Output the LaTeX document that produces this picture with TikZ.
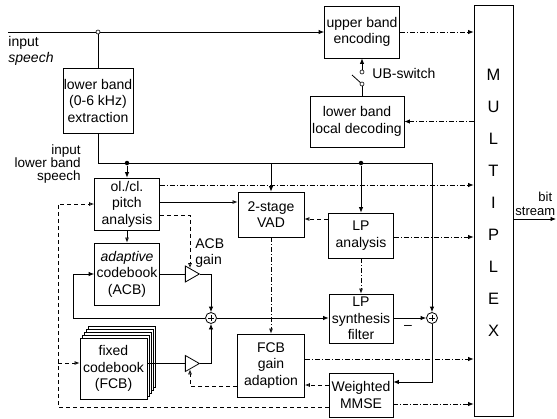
\documentclass[tikz,border=0pt]{standalone}
\usepackage{fontspec}
\setmainfont{Liberation Sans}
\usetikzlibrary{arrows.meta,shapes.geometric}
\begin{document}
\begin{tikzpicture}[x=1pt,y=-1pt,
  font=\fontsize{14}{16.5}\selectfont,
  line width=0.8pt,
  blk/.style={draw, align=center, inner sep=0pt, fill=white},
  fa/.style={-{Latex[length=5.5pt,width=4.5pt]}},
  oa/.style={-{Latex[open,length=5pt,width=4pt]}},
  dsh/.style={dash pattern=on 4pt off 3pt},
  dd/.style={dash pattern=on 5pt off 2pt on 1pt off 2pt},
  sumnode/.style={draw, circle, minimum size=11pt, inner sep=0pt, fill=white,
    path picture={\draw[line width=0.6pt]
      ([xshift=-3pt]path picture bounding box.center) -- ([xshift=3pt]path picture bounding box.center)
      ([yshift=-3pt]path picture bounding box.center) -- ([yshift=3pt]path picture bounding box.center);}},
  amp/.style={draw, isosceles triangle, isosceles triangle stretches, minimum width=16pt, minimum height=14pt, inner sep=0pt, fill=white},
  dotnode/.style={circle, fill=black, minimum size=4.5pt, inner sep=0pt},
  swc/.style={circle, draw, fill=white, minimum size=4pt, inner sep=0pt, line width=0.6pt},
]
\useasboundingbox (0,0) rectangle (557,418);

% blocks
\node[blk, minimum width=70pt, minimum height=65pt] (ext) at (98,100.5) {lower band\\(0-6 kHz)\\extraction};
\node[blk, minimum width=75pt, minimum height=52pt] (ube) at (362,32) {upper band\\encoding};
\node[blk, minimum width=94pt, minimum height=51pt] (lbd) at (357,121.5) {lower band\\local decoding};
\node[draw, minimum width=39pt, minimum height=411pt, inner sep=0pt] (mux) at (493.5,210.5) {};
\node[align=center, font=\fontsize{16.5}{32}\selectfont] (muxt) at (493.5,203) {M\\U\\L\\T\\I\\P\\L\\E\\X};
\node[blk, minimum width=65pt, minimum height=52pt] (pitch) at (127,204) {ol./cl.\\pitch\\analysis};
\node[blk, minimum width=65pt, minimum height=62pt] (acb) at (127,274) {\textit{adaptive}\\codebook\\(ACB)};
\foreach \i in {4,3,2,1}{
  \draw[fill=white] (80+2*\i,338-3*\i) rectangle ++(67,61);
}
\node[blk, minimum width=67pt, minimum height=61pt] (fcb) at (113.5,368.5) {fixed\\codebook\\(FCB)};
\node[blk, minimum width=66pt, minimum height=45pt] (vad) at (271,214.5) {2-stage\\VAD};
\node[blk, minimum width=65pt, minimum height=45pt] (lpa) at (361,235.5) {LP\\analysis};
\node[blk, minimum width=64pt, minimum height=49pt] (lps) at (361,318.5) {LP\\synthesis\\filter};
\node[blk, minimum width=67pt, minimum height=63pt] (fga) at (271,365.5) {FCB\\gain\\adaption};
\node[blk, minimum width=64pt, minimum height=44pt] (wm) at (361,395) {Weighted\\MMSE};

\node[sumnode] (s1) at (211,318) {};
\node[sumnode] (s2) at (432,318) {};
\node[amp] (a1) at (190,274) {};
\node[amp] (a2) at (190,363.5) {};

% labels
\node[anchor=north west, align=left, inner sep=0pt, font=\fontsize{14}{15.5}\selectfont] (lin) at (8,36) {input\\\textit{speech}};
\node[anchor=north east, align=right, inner sep=0pt, font=\fontsize{13.5}{13}\selectfont] (llb) at (81,144) {input\\lower band\\speech};
\node[anchor=west, align=left, inner sep=0pt, font=\fontsize{14}{15.5}\selectfont] (lacb) at (195,253) {ACB\\gain};
\node[anchor=west, inner sep=0pt] (lsw) at (372,73) {UB-switch};
\node[inner sep=0pt] (lmin) at (408,327) {\textendash};
\node[anchor=west, inner sep=0pt, font=\fontsize{13}{15}\selectfont] (lbit) at (538,197) {bit};
\node[anchor=west, inner sep=0pt, font=\fontsize{13}{15}\selectfont] (lstr) at (515,211) {stream};

% input line
\coordinate (inp) at (8,32);
\draw[fa] (inp) -- (ube.west);
\node[swc] (j1) at (98,32) {};
\draw (j1) -- (ext.north);

% lower band bus
\coordinate (b0) at (98,163);
\coordinate (b3) at (432,163);
\coordinate (bv) at (271,163);
\draw (ext.south) -- (b0) -- (b3);
\node[dotnode] (d1) at (127,163) {};
\node[dotnode] (d2) at (361,163) {};
\draw[fa] (d1) -- (pitch.north);
\draw[fa] (bv) -- (vad.north);
\draw[fa] (d2) -- (lpa.north);
\draw[fa] (b3) -- (s2.north);

% UB switch
\node[swc] (c1) at (362,72) {};
\node[swc] (c2) at (362,84) {};
\coordinate (blade) at (352,75);
\draw[fa] (c1) -- (ube.south);
\draw (c2) -- (blade);
\draw (c2) -- (c2 |- lbd.north);

% multiplex connections
\draw[dd,fa] (ube.east) -- (mux.west |- ube);
\draw[dd,fa] (mux.west |- lbd) -- (lbd.east);
\draw[dd,fa] (pitch.east |- 0,185) -- (mux.west |- 0,185);
\draw[dd,fa] (lpa.east |- 0,237) -- (mux.west |- 0,237);
\draw[dd,fa] (fga.east |- 0,359) -- (mux.west |- 0,359);
\draw[dd,fa] (wm.east |- 0,404) -- (mux.west |- 0,404);
\coordinate (out) at (556,219);
\draw[fa] (mux.east |- out) -- (out);

% pitch
\draw[oa] (pitch.east |- 0,202) -- (vad.west |- 0,202);
\draw[oa] (pitch.south) -- (acb.north);
\draw[dsh,oa] (pitch.east |- 0,215) -| (a1);

% codebooks and gains
\draw (acb.east) -- (a1);
\draw (fcb.east |- a2) -- (a2);
\draw[fa] (a1.apex) -| (s1);
\draw[fa] (a2.apex) -| (s1);
\coordinate (fb) at (73,318);
\draw[fa] (s1.west) -- (fb) |- (acb.west);
\draw[fa] (s1.east) -- (lps.west |- s1);
\draw[fa] (lps.east |- s2) -- (s2.west);
\draw[fa] (s2.south) |- (wm.east |- 0,382);

% dashed control
\coordinate (cl) at (58,204);
\draw[dsh,oa] (wm.west |- 0,407) -| (cl) -- (pitch.west);
\draw[dsh,oa] (cl |- 0,363) -- (fcb.west |- 0,363);
\draw[dsh,oa] (wm.west |- 0,385) -- (fga.east |- 0,385);
\draw[dsh,oa] (fga.west |- 0,386) -| (a2);
\draw[dsh,oa] (lpa.west |- 0,219) -- (vad.east |- 0,219);
\draw[dd,oa] (vad.south) -- (fga.north);
\draw[dd,oa] (lpa.south) -- (lps.north);
\end{tikzpicture}
\end{document}
